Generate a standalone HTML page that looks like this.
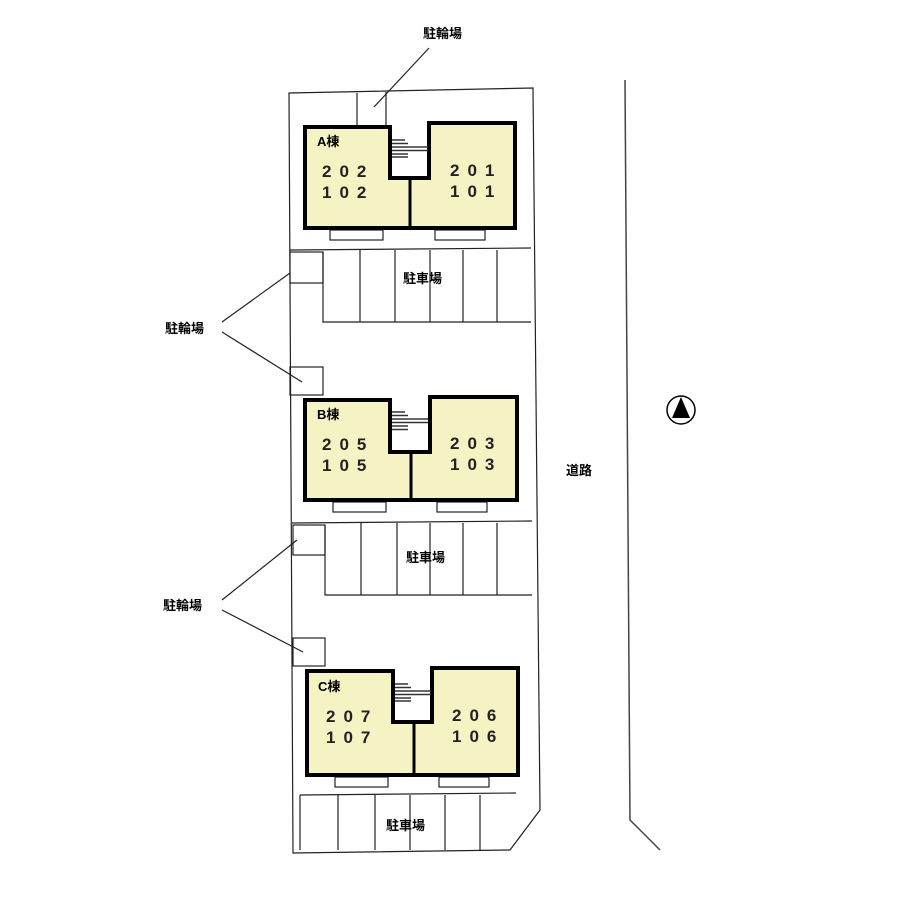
<!DOCTYPE html>
<html><head><meta charset="utf-8"><style>
html,body{margin:0;padding:0;background:#fff;width:900px;height:900px;overflow:hidden}
text{font-family:"Liberation Sans","Noto Sans CJK JP",sans-serif}
.l{font-weight:bold;font-size:13px}
.n{font-size:17px;letter-spacing:8px;font-weight:bold;fill:#222}
</style></head><body>
<svg width="900" height="900" viewBox="0 0 900 900" xmlns="http://www.w3.org/2000/svg">
<g fill="none" stroke="#222" stroke-width="1.2">
<path d="M289,93 L533,88 L540,810 L510,850 L293,853 Z"/>
<line x1="357" y1="93" x2="357" y2="127"/>
<line x1="386" y1="92" x2="386" y2="127"/>
<path d="M625,80 L630,820 L660,850" stroke-width="1.5" stroke="#444"/>
<line x1="290" y1="250" x2="531" y2="248"/>
<rect x="290" y="252" width="33" height="31"/>
<path d="M323,252 V322 H531"/>
<line x1="360" y1="250" x2="360" y2="322"/><line x1="395" y1="250" x2="395" y2="322"/><line x1="430" y1="250" x2="430" y2="322"/><line x1="463" y1="250" x2="463" y2="322"/><line x1="497" y1="250" x2="497" y2="322"/>
<rect x="290" y="367" width="33" height="28"/>
<line x1="292" y1="523" x2="532" y2="521"/>
<rect x="293" y="525" width="32" height="30"/>
<path d="M325,525 V595 H532"/>
<line x1="361" y1="523" x2="361" y2="595"/><line x1="397" y1="523" x2="397" y2="595"/><line x1="430" y1="523" x2="430" y2="595"/><line x1="463" y1="523" x2="463" y2="595"/><line x1="497" y1="523" x2="497" y2="595"/>
<rect x="293" y="638" width="32" height="28"/>
<path d="M300,795 L516,793 M300,795 V850"/>
<line x1="338" y1="795" x2="338" y2="850"/><line x1="375" y1="795" x2="375" y2="850"/><line x1="410" y1="795" x2="410" y2="850"/><line x1="445" y1="795" x2="445" y2="850"/><line x1="480" y1="795" x2="480" y2="850"/>
<rect x="330" y="230" width="53" height="10"/><rect x="435" y="230" width="50" height="10"/>
<rect x="333" y="502" width="53" height="10"/><rect x="437" y="502" width="50" height="10"/>
<rect x="335" y="777" width="53" height="10"/><rect x="439" y="777" width="50" height="10"/>
<line x1="429" y1="48" x2="374" y2="107"/>
<line x1="222" y1="322" x2="290" y2="273"/><line x1="222" y1="332" x2="302" y2="382"/>
<line x1="222" y1="600" x2="297" y2="540"/><line x1="222" y1="610" x2="303" y2="652"/>
</g>
<g fill="#f5f2c4" stroke="#000" stroke-width="4">
<path d="M305,127 H390 V178 H429 V123 H515 V228 H305 Z"/>
<path d="M305,400 H390 V452 H430 V397 H517 V500 H305 Z"/>
<path d="M307,671 H393 V722 H432 V668 H518 V775 H307 Z"/>
</g>
<g stroke="#000" stroke-width="3">
<line x1="410" y1="178" x2="410" y2="228"/>
<line x1="411" y1="452" x2="411" y2="500"/>
<line x1="414" y1="722" x2="414" y2="775"/>
</g>
<g stroke="#333" stroke-width="1.6">
<path d="M392,140 H405 M392,143.5 H408 M392,147 H428 M392,150.5 H428 M392,154 H408 M392,157 H408"/>
<path d="M392,412 H405 M392,415.5 H408 M392,419 H428 M392,422.5 H428 M392,426 H408 M392,429.5 H408"/>
<path d="M395,684 H408 M395,687.5 H411 M395,691 H431 M395,694.5 H431 M395,698 H411 M395,701 H411"/>
</g>
<circle cx="681" cy="410" r="14" fill="none" stroke="#000" stroke-width="1.5"/>
<path d="M681,397 L690,418 L672,418 Z" fill="#000"/>
<g fill="#000">
<text class="l" x="423" y="38">駐輪場</text>
<text class="l" x="165" y="333">駐輪場</text>
<text class="l" x="163" y="610">駐輪場</text>
<text class="l" x="403" y="283">駐車場</text>
<text class="l" x="406" y="562">駐車場</text>
<text class="l" x="386" y="830">駐車場</text>
<text class="l" x="566" y="475">道路</text>
<text class="l" x="317" y="146">A棟</text>
<text class="l" x="317" y="419">B棟</text>
<text class="l" x="318" y="691">C棟</text>
<text class="n" x="322" y="177">202</text><text class="n" x="322" y="198">102</text>
<text class="n" x="450" y="176">201</text><text class="n" x="450" y="197">101</text>
<text class="n" x="322" y="450">205</text><text class="n" x="322" y="471">105</text>
<text class="n" x="450" y="449">203</text><text class="n" x="450" y="470">103</text>
<text class="n" x="326" y="722">207</text><text class="n" x="326" y="743">107</text>
<text class="n" x="452" y="721">206</text><text class="n" x="452" y="742">106</text>
</g>
</svg>
</body></html>
